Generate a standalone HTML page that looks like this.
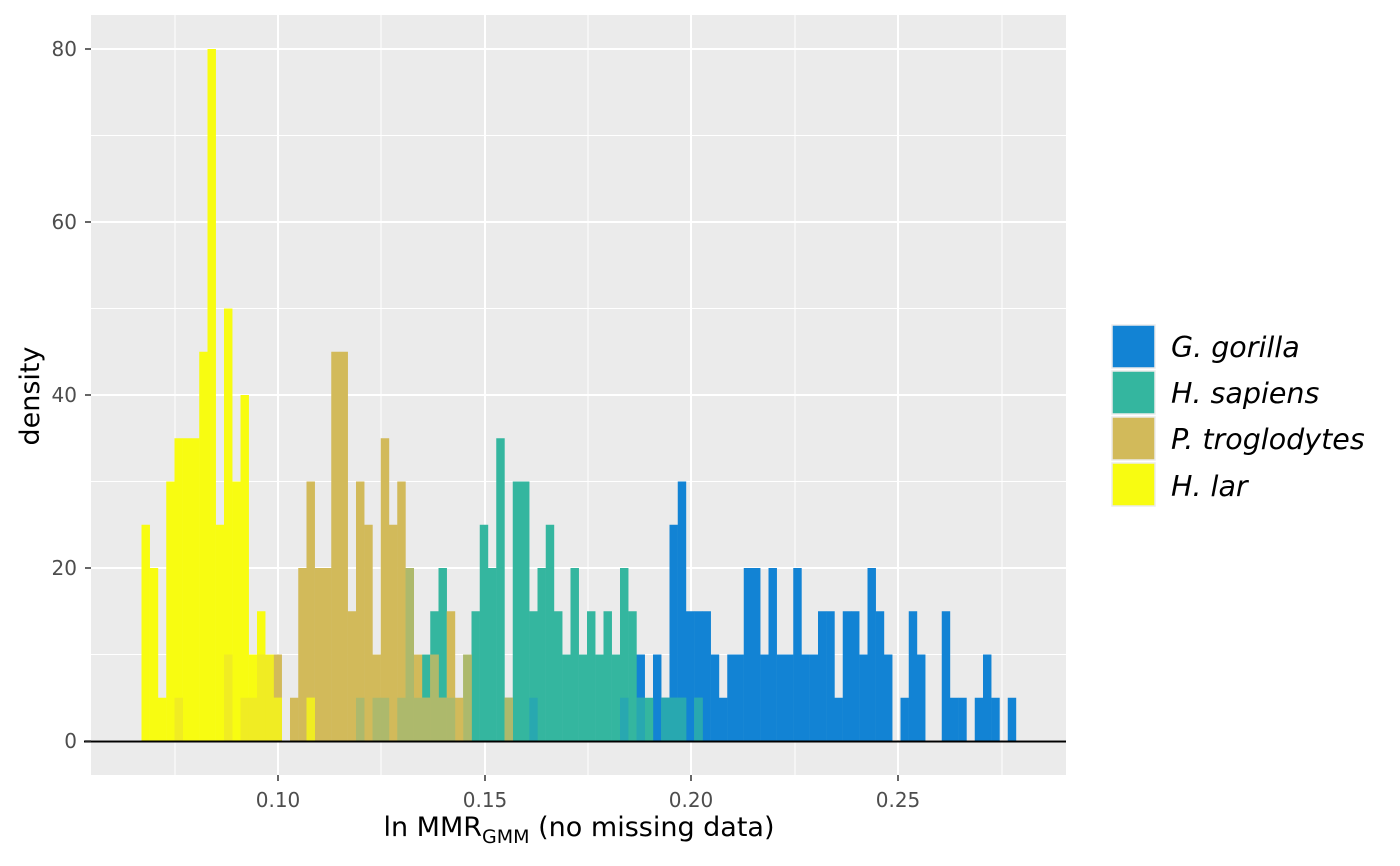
<!DOCTYPE html>
<html><head><meta charset="utf-8">
<style>
html,body{margin:0;padding:0;background:#fff;}
svg{display:block;font-family:"DejaVu Sans","Liberation Sans",sans-serif;}
</style></head>
<body>
<svg id="s" width="1400" height="866" xmlns="http://www.w3.org/2000/svg">
<rect x="91" y="15" width="975" height="760" fill="#ebebeb"/>
<g stroke="#fff" stroke-width="1">
<line x1="91" x2="1066" y1="654.5" y2="654.5"/><line x1="91" x2="1066" y1="481.5" y2="481.5"/>
<line x1="91" x2="1066" y1="308.5" y2="308.5"/><line x1="91" x2="1066" y1="135.5" y2="135.5"/>
<line y1="15" y2="775" x1="175" x2="175"/><line y1="15" y2="775" x1="381" x2="381"/>
<line y1="15" y2="775" x1="588" x2="588"/><line y1="15" y2="775" x1="795" x2="795"/>
<line y1="15" y2="775" x1="1002" x2="1002"/>
</g>
<g stroke="#fff" stroke-width="2">
<line x1="91" x2="1066" y1="741" y2="741"/><line x1="91" x2="1066" y1="568" y2="568"/>
<line x1="91" x2="1066" y1="395" y2="395"/><line x1="91" x2="1066" y1="222" y2="222"/>
<line x1="91" x2="1066" y1="49" y2="49"/>
<line y1="15" y2="775" x1="278" x2="278"/><line y1="15" y2="775" x1="485" x2="485"/>
<line y1="15" y2="775" x1="691" x2="691"/><line y1="15" y2="775" x1="898" x2="898"/>
</g>
<g id="bars"></g>
<line x1="84" x2="1066" y1="741.5" y2="741.5" stroke="#000" stroke-width="2"/>
<g stroke="#333" stroke-width="1.5">
<line x1="85" x2="91" y1="741" y2="741"/><line x1="85" x2="91" y1="568" y2="568"/>
<line x1="85" x2="91" y1="395" y2="395"/><line x1="85" x2="91" y1="222" y2="222"/>
<line x1="85" x2="91" y1="49" y2="49"/>
<line x1="278" x2="278" y1="775" y2="781"/><line x1="485" x2="485" y1="775" y2="781"/>
<line x1="691" x2="691" y1="775" y2="781"/><line x1="898" x2="898" y1="775" y2="781"/>
</g>
<g fill="#4d4d4d" font-size="20" text-anchor="end">
<text x="77" y="748">0</text><text x="77" y="575">20</text><text x="77" y="402">40</text>
<text x="77" y="229">60</text><text x="77" y="56">80</text>
</g>
<g fill="#4d4d4d" font-size="20" text-anchor="middle">
<text x="278" y="807">0.10</text><text x="485" y="807">0.15</text>
<text x="691" y="807">0.20</text><text x="898" y="807">0.25</text>
</g>
<text x="579" y="836" font-size="27" text-anchor="middle" fill="#000">ln MMR<tspan font-size="19" dy="7">GMM</tspan><tspan dy="-7"> (no missing data)</tspan></text>
<text transform="translate(39,396) rotate(-90)" font-size="27" text-anchor="middle" fill="#000">density</text>
<g stroke="#ebebeb" stroke-width="1.5">
<rect x="1112" y="325" width="43" height="43" fill="#1283d4"/>
<rect x="1112" y="371" width="43" height="43" fill="#34b69f"/>
<rect x="1112" y="417" width="43" height="43" fill="#d2ba5a"/>
<rect x="1112" y="463" width="43" height="43" fill="#f8fc11"/>
</g>
<g font-size="28.5" font-style="italic" fill="#000">
<text x="1171" y="357">G. gorilla</text>
<text x="1171" y="403">H. sapiens</text>
<text x="1171" y="449">P. troglodytes</text>
<text x="1171" y="496">H. lar</text>
</g>
</svg>
<script>
var lar={0:25,1:20,2:5,3:30,4:35,5:35,6:35,7:45,8:80,9:25,10:50,11:30,12:40,13:10,14:15,15:10,16:5,20:5};
var trog={4:5,10:10,12:5,13:5,14:10,15:10,16:10,18:5,19:20,20:30,21:20,22:20,23:45,24:45,25:15,26:30,27:25,28:10,29:35,30:25,31:30,32:20,33:10,34:5,35:10,36:5,37:15,38:5,39:10,44:5};
var sap={26:5,28:5,29:5,31:5,32:20,33:5,34:10,35:15,36:20,37:5,39:10,40:15,41:25,42:20,43:35,44:5,45:30,46:30,47:15,48:20,49:25,50:15,51:10,52:20,53:10,54:15,55:10,56:15,57:10,58:20,59:15,60:5,61:5,63:5,64:5,65:5,67:5};
var gor={47:5,58:5,60:10,62:10,63:5,64:25,65:30,66:15,67:15,68:15,69:10,70:5,71:10,72:10,73:20,74:20,75:10,76:20,77:10,78:10,79:20,80:10,81:10,82:15,83:15,84:5,85:15,86:15,87:10,88:20,89:15,90:10,92:5,93:15,94:10,97:15,98:5,99:5,101:5,102:10,103:5,105:5};
var layers=[[gor,'#1283d4'],[sap,'#34b69f'],[trog,'#d2ba5a'],[lar,'#f8fc11']];
var blends=[[gor,sap,'#28a8b0'],[sap,trog,'#adb96c'],[trog,lar,'#f0ec23']];
var g=document.getElementById('bars'),h='';
function R(i,v,c){if(!v)return;var x=141.5+8.25*i,y=741-v*8.65;h+='<rect x="'+x+'" y="'+y+'" width="8.45" height="'+(v*8.65)+'" fill="'+c+'"/>';}
layers.forEach(function(l){for(var k in l[0])R(+k,l[0][k],l[1]);});
blends.forEach(function(b){for(var k in b[0]){if(b[1][k]){R(+k,Math.min(b[0][k],b[1][k]),b[2]);}}});
g.innerHTML=h;
</script>
</body></html>
